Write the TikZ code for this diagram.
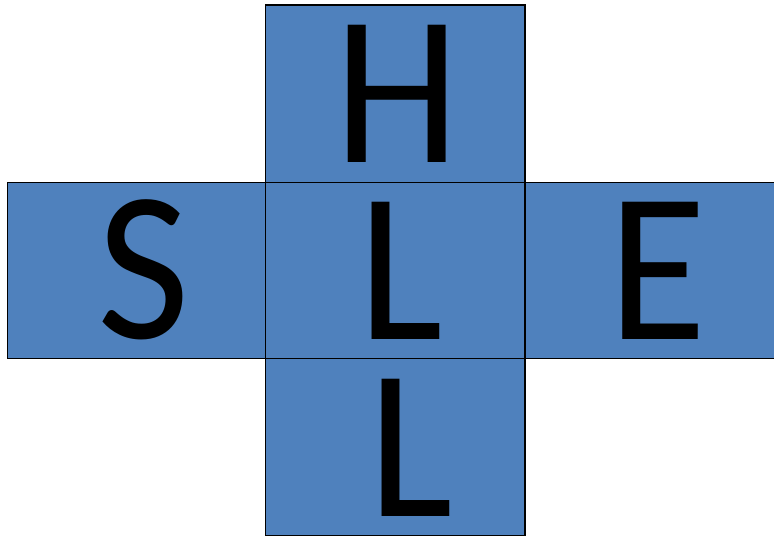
\documentclass[tikz,border=0pt]{standalone}
\usepackage{fontspec}
\setmainfont{Carlito}[FakeStretch=0.94]
\definecolor{tileblue}{RGB}{79,129,189}
\begin{document}
\begin{tikzpicture}[x=1pt,y=-1pt,
  tile/.style={draw=black,line width=1.3pt,fill=tileblue},
  letter/.style={inner sep=0pt,anchor=base,text height=136pt,text depth=0pt,
    font=\fontsize{214}{214}\selectfont}]
\useasboundingbox (0,0) rectangle (774,537);
\filldraw[tile] (265.7,5) rectangle (525,182.7);
\filldraw[tile] (7.3,182.7) rectangle (265.7,358.5);
\filldraw[tile] (265.7,182.7) rectangle (525,358.5);
\filldraw[tile] (525,182.7) rectangle (776,358.5);
\filldraw[tile] (265.7,358.5) rectangle (525,535.7);
\node[letter] (h) at (397.5,163) {H};
\node[letter] (s) at (143.6,338.5) {S};
\node[letter] (l1) at (400.6,339.3) {L};
\node[letter] (e) at (657.7,340) {E};
\node[letter] (l2) at (410.4,516.7) {L};
\end{tikzpicture}
\end{document}
